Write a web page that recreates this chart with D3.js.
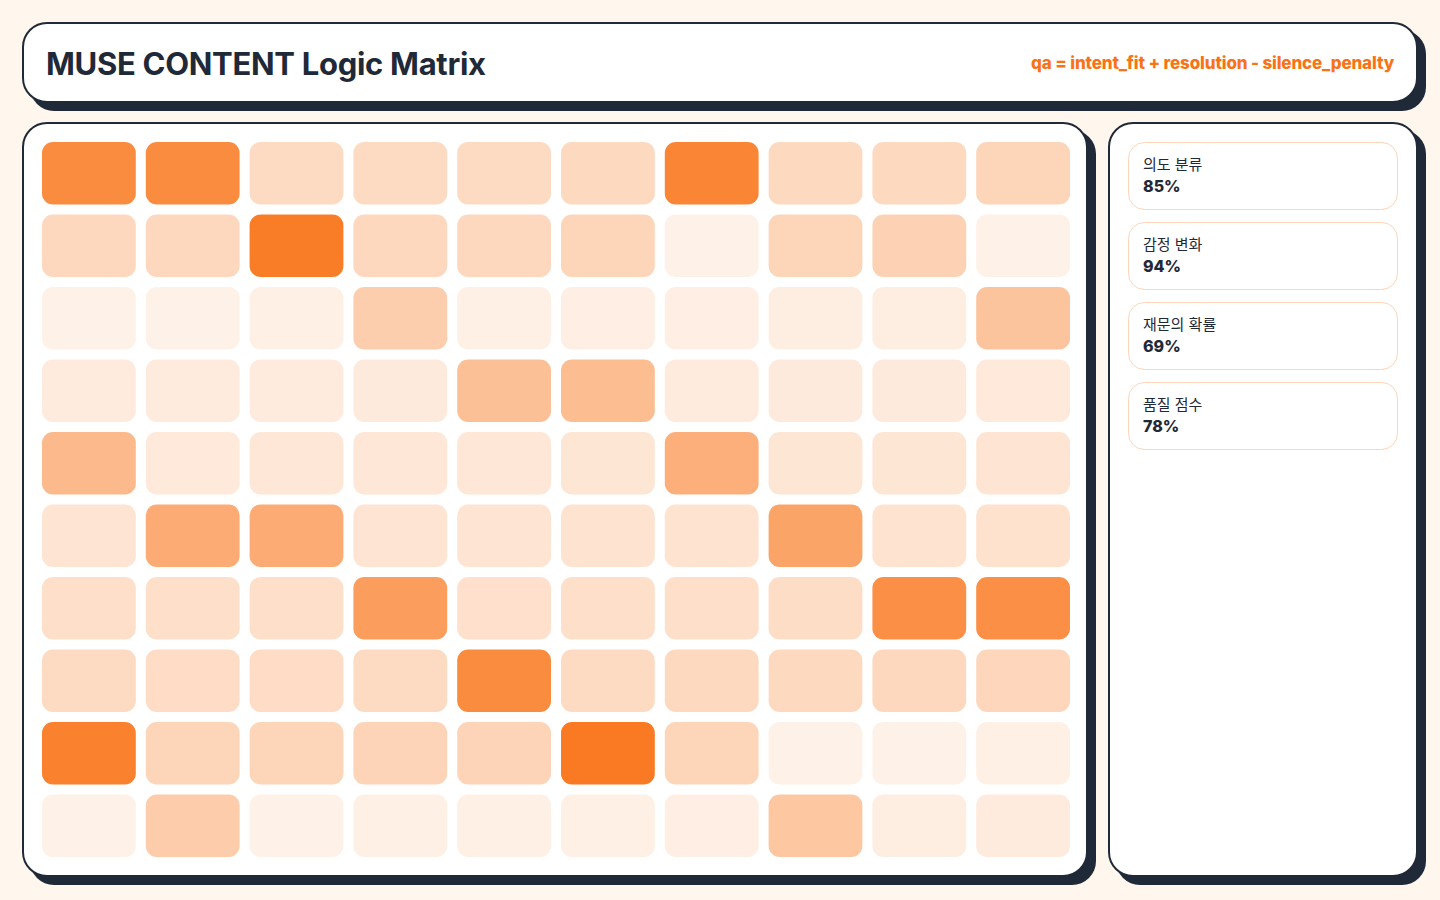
<!DOCTYPE html>
<html>
<head>
<meta charset="utf-8">
<script src="https://cdn.jsdelivr.net/npm/d3@7"></script>
<style>
  html, body { margin: 0; padding: 0; background: #fff7ed; }
  svg { display: block; font-family: Inter, "Noto Sans CJK KR", sans-serif; }
</style>
</head>
<body>
<div id="chart"></div>
<script>
// Chart values
var title = "MUSE CONTENT Logic Matrix";
var formula = "qa = intent_fit + resolution - silence_penalty";

var rowIds = d3.range(10);
var colIds = d3.range(10);

// intensity per cell (0..1), row by row
var matrix = [
    [0.82, 0.82, 0.26, 0.26, 0.26, 0.27, 0.87, 0.27, 0.27, 0.30],
    [0.28, 0.28, 0.93, 0.28, 0.28, 0.30, 0.10, 0.30, 0.32, 0.10],
    [0.10, 0.10, 0.11, 0.35, 0.11, 0.12, 0.12, 0.13, 0.13, 0.42],
    [0.14, 0.14, 0.14, 0.15, 0.45, 0.47, 0.14, 0.15, 0.15, 0.16],
    [0.50, 0.16, 0.17, 0.17, 0.17, 0.18, 0.57, 0.18, 0.18, 0.19],
    [0.19, 0.60, 0.60, 0.19, 0.19, 0.20, 0.20, 0.65, 0.20, 0.21],
    [0.23, 0.23, 0.23, 0.70, 0.22, 0.23, 0.23, 0.24, 0.80, 0.80],
    [0.26, 0.25, 0.25, 0.26, 0.82, 0.26, 0.27, 0.27, 0.28, 0.29],
    [0.90, 0.30, 0.30, 0.31, 0.31, 0.95, 0.30, 0.10, 0.10, 0.11],
    [0.10, 0.36, 0.10, 0.11, 0.11, 0.11, 0.12, 0.40, 0.13, 0.14]
];

var metricLabels = ["의도 분류", "감정 변화", "재문의 확률", "품질 점수"];
var metricValues = [85, 94, 69, 78];

// Chart space
var svgWidth = 1440;
var svgHeight = 900;
var ink = "#1f2937";
var orange = "#f97316";

var svg = d3.select("#chart")
    .append("svg")
    .attr("width", svgWidth)
    .attr("height", svgHeight);

// panel with solid offset shadow
function panel(x, y, w, h, r) {
    var g = svg.append("g");
    g.append("rect")
        .attr("x", x + 8).attr("y", y + 8)
        .attr("width", w).attr("height", h)
        .attr("rx", r)
        .attr("fill", ink);
    g.append("rect")
        .attr("x", x + 1).attr("y", y + 1)
        .attr("width", w - 2).attr("height", h - 2)
        .attr("rx", r)
        .attr("fill", "#ffffff")
        .attr("stroke", ink)
        .attr("stroke-width", 2);
    return g;
}

// Header
var header = panel(22, 22, 1396, 81, 24);
header.append("text")
    .attr("x", 46).attr("y", 75)
    .attr("font-size", 31)
    .attr("font-weight", 700)
    .attr("letter-spacing", "-0.3")
    .attr("fill", ink)
    .text(title);

header.append("text")
    .attr("x", 1394).attr("y", 69)
    .attr("text-anchor", "end")
    .attr("font-size", 17)
    .attr("font-weight", 800)
    .attr("letter-spacing", "-0.15")
    .attr("fill", orange)
    .text(formula);

// Matrix panel
panel(22, 122, 1066, 755, 24);

var xScale = d3.scaleBand()
    .domain(colIds)
    .range([42, 1070])
    .paddingInner(100 / 1038);

var yScale = d3.scaleBand()
    .domain(rowIds)
    .range([142, 857])
    .paddingInner(100 / 725);

var colorScale = d3.scaleLinear()
    .domain([0, 1])
    .range(["#ffffff", orange])
    .interpolate(d3.interpolateRgb);

var cells = [];
matrix.forEach(function(row, r) {
    row.forEach(function(v, c) {
        cells.push({ row: r, col: c, value: v });
    });
});

svg.append("g")
    .selectAll("rect")
    .data(cells).enter()
    .append("rect")
    .attr("x", d => xScale(d.col))
    .attr("y", d => yScale(d.row))
    .attr("width", xScale.bandwidth())
    .attr("height", yScale.bandwidth())
    .attr("rx", 11)
    .attr("fill", d => colorScale(d.value));

// Side panel with metric cards
panel(1108, 122, 310, 755, 24);

var cardY = d3.scaleBand()
    .domain(d3.range(metricLabels.length))
    .range([142, 142 + 80 * metricLabels.length - 13])
    .paddingInner(13 / 80)
    .paddingOuter(0);

var cards = svg.append("g")
    .selectAll("g")
    .data(metricLabels).enter()
    .append("g")
    .attr("transform", (d, i) => `translate(1128, ${cardY(i)})`);

cards.append("rect")
    .attr("x", 0.5).attr("y", 0.5)
    .attr("width", 269).attr("height", cardY.bandwidth())
    .attr("rx", 16)
    .attr("fill", "#ffffff")
    .attr("stroke", "#fdd5b8")
    .attr("stroke-width", 1);

cards.append("text")
    .attr("x", 15).attr("y", 28)
    .attr("font-size", 15)
    .attr("fill", ink)
    .text(d => d);

cards.append("text")
    .attr("x", 15).attr("y", 50)
    .attr("font-size", 16)
    .attr("font-weight", 800)
    .attr("fill", ink)
    .text((d, i) => metricValues[i] + "%");
</script>
</body>
</html>
